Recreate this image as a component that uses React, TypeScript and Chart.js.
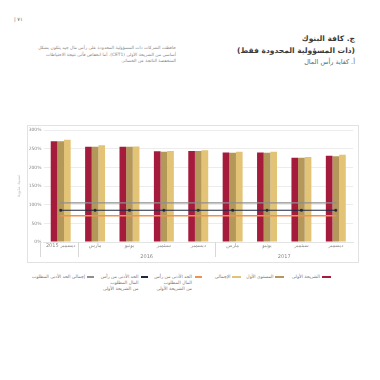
import React, { useEffect, useRef } from "react";
import { Chart, registerables } from "chart.js";

Chart.register(...registerables);

const categories = ["2015 ديسمبر", "مارس", "يونيو", "سبتمبر", "ديسمبر", "مارس", "يونيو", "سبتمبر", "ديسمبر"];
const yearLabels = ["2016", "2017"];
const cet1 = [270, 255, 255, 243, 244, 240, 240, 226, 231];
const tier1 = [270, 255, 255, 242, 244, 239, 239, 226, 230];
const total = [274, 259, 256, 244, 246, 242, 242, 228, 234];
const minTotal = [105, 105, 105, 105, 105, 105, 105, 105, 105];
const minTier1 = [85, 85, 85, 85, 85, 85, 85, 85, 85];
const minCet1 = [70, 70, 70, 70, 70, 70, 70, 70, 70];
const yTicks = ["0%", "50%", "100%", "150%", "200%", "250%", "300%"];

const RED = "#A51B3C";
const DGOLD = "#B4985A";
const LGOLD = "#E3C375";
const GRAY = "#8F8F8F";
const NAVY = "#1E2742";
const ORANGE = "#F09050";

const AR = "'DejaVu Sans', 'Noto Sans', sans-serif";

const yearPlugin = {
  id: "yearPlugin",
  afterDraw(chart: any) {
    const ctx = chart.ctx;
    const x = chart.scales.x;
    const area = chart.chartArea;
    const b1 = (x.getPixelForValue(0) + x.getPixelForValue(1)) / 2;
    const b2 = (x.getPixelForValue(4) + x.getPixelForValue(5)) / 2;
    ctx.save();
    ctx.strokeStyle = "#d8d8d8";
    ctx.lineWidth = 1;
    [area.left - 4, b1, b2].forEach((px) => {
      ctx.beginPath();
      ctx.moveTo(Math.round(px) + 0.5, area.bottom);
      ctx.lineTo(Math.round(px) + 0.5, area.bottom + 15);
      ctx.stroke();
    });
    ctx.fillStyle = "#888";
    ctx.font = "5px " + AR;
    ctx.textAlign = "center";
    ctx.textBaseline = "middle";
    ctx.fillText(yearLabels[0], (b1 + b2) / 2, area.bottom + 15);
    ctx.fillText(yearLabels[1], (b2 + area.right) / 2, area.bottom + 15);
    ctx.restore();
  },
};

function ChartBox() {
  const ref = useRef<HTMLCanvasElement>(null);
  useEffect(() => {
    if (!ref.current) return;
    const lineDs = (label: string, data: number[], color: string, w: number, ps: any) => ({
      type: "line" as const,
      label,
      data,
      borderColor: color,
      backgroundColor: color,
      borderWidth: w,
      pointRadius: 1.3,
      pointStyle: ps,
      pointBorderWidth: 0.8,
      order: 0,
    });
    const chart = new Chart(ref.current, {
      type: "bar",
      data: {
        labels: categories,
        datasets: [
          { type: "bar", label: "الشريحة الأولى", data: cet1, backgroundColor: RED, order: 1 },
          { type: "bar", label: "المستوى الأول", data: tier1, backgroundColor: DGOLD, order: 1 },
          { type: "bar", label: "الإجمالي", data: total, backgroundColor: LGOLD, order: 1 },
          lineDs("إجمالي الحد الأدنى المطلوب", minTotal, GRAY, 1.2, "crossRot"),
          lineDs("الحد الأدنى من رأس المال المطلوب من الشريحة الأولى", minTier1, NAVY, 1.2, "rect"),
          lineDs("الحد الأدنى من رأس المال المطلوب من الشريحة الأولى", minCet1, ORANGE, 1.5, "line"),
        ] as any,
      },
      options: {
        animation: false,
        responsive: false,
        maintainAspectRatio: false,
        layout: { padding: { top: 5, right: 5, left: 0, bottom: 0 } },
        datasets: { bar: { categoryPercentage: 0.58, barPercentage: 1 } } as any,
        plugins: { legend: { display: false }, tooltip: { enabled: false } },
        scales: {
          x: {
            grid: { display: false, drawTicks: false },
            border: { display: true, color: "#e3e3e3" },
            ticks: { color: "#8a8a8a", font: { size: 5, family: AR }, padding: 1, maxRotation: 0, autoSkip: false },
            afterFit: (s: any) => { s.height = 20; },
          },
          y: {
            min: 0,
            max: 300,
            grid: { color: "#ececec", drawTicks: false },
            border: { display: false },
            ticks: {
              stepSize: 50,
              color: "#8a8a8a",
              font: { size: 4.5, family: AR },
              padding: 2,
              callback: (v: any) => yTicks[Math.round(Number(v) / 50)],
            },
            title: { display: true, text: "نسبة مئوية", color: "#c4c4c4", font: { size: 5, family: AR }, padding: 1 },
            afterFit: (s: any) => { s.width = 28.5; },
          },
        },
      },
      plugins: [yearPlugin],
    });
    return () => chart.destroy();
  }, []);
  return <canvas ref={ref} width={343} height={137} style={{ position: "absolute", left: 15, top: 125, width: 343, height: 137 }} />;
}

const legendText: React.CSSProperties = {
  position: "absolute",
  fontSize: 4.5,
  lineHeight: "5.8px",
  color: "#777",
  fontFamily: AR,
  direction: "rtl",
  textAlign: "right",
  whiteSpace: "nowrap",
};

function Swatch({ left, color, kind }: { left: number; color: string; kind: "bar" | "line" }) {
  return (
    <div style={{ position: "absolute", left, top: kind === "bar" ? 275.8 : 276.3, width: kind === "bar" ? 9 : 7, height: kind === "bar" ? 2.4 : 1.3, background: color }} />
  );
}

export default function App() {
  return (
    <div style={{ position: "absolute", left: 0, top: 0, width: 380, height: 380, background: "#fff", overflow: "hidden", fontFamily: AR }}>
      <div style={{ position: "absolute", left: 14, top: 16, fontSize: 5, color: "#666" }}>| ٧١</div>
      <div style={{ position: "absolute", right: 25, top: 33, direction: "rtl", textAlign: "right", color: "#3a3a3a", whiteSpace: "nowrap" }}>
        <div style={{ fontSize: 7.5, fontWeight: "bold", lineHeight: "11.5px" }}>ج. كافة البنوك</div>
        <div style={{ fontSize: 7.5, fontWeight: "bold", lineHeight: "11.5px" }}>(ذات المسؤولية المحدودة فقط)</div>
        <div style={{ fontSize: 6.5, lineHeight: "12px", color: "#666" }}>أ. كفاية رأس المال</div>
      </div>
      <div style={{ position: "absolute", left: 44, width: 132, top: 45, direction: "rtl", textAlign: "right", color: "#888", fontSize: 4.4, lineHeight: "6.6px", whiteSpace: "nowrap" }}>
        <div>حافظت الشركات ذات المسؤولية المحدودة على رأس مال جيد يتكون بشكل</div>
        <div>أساسي من الشريحة الأولى (CET1). أما انخفاض فأتى نتيجة الاحتياطات</div>
        <div>المنخفضة الناتجة عن الخسائر.</div>
      </div>
      <div style={{ position: "absolute", left: 27, top: 125, width: 330, height: 136, border: "1px solid #e2e2e2" }} />
      <ChartBox />
      <Swatch left={322} color={RED} kind="bar" />
      <div style={{ ...legendText, right: 380 - 320, top: 274 }}>الشريحة الأولى</div>
      <Swatch left={275} color={DGOLD} kind="bar" />
      <div style={{ ...legendText, right: 380 - 273.5, top: 274 }}>المستوى الأول</div>
      <Swatch left={232} color={LGOLD} kind="bar" />
      <div style={{ ...legendText, right: 380 - 230.5, top: 274 }}>الإجمالي</div>
      <Swatch left={195} color={ORANGE} kind="line" />
      <div style={{ ...legendText, right: 380 - 192, top: 274 }}>
        <div>الحد الأدنى من رأس</div>
        <div>المال المطلوب</div>
        <div>من الشريحة الأولى</div>
      </div>
      <Swatch left={140.5} color={NAVY} kind="line" />
      <div style={{ ...legendText, right: 380 - 138.5, top: 274 }}>
        <div>الحد الأدنى من رأس</div>
        <div>المال المطلوب</div>
        <div>من الشريحة الأولى</div>
      </div>
      <Swatch left={87} color={GRAY} kind="line" />
      <div style={{ ...legendText, right: 380 - 85, top: 274 }}>إجمالي الحد الأدنى المطلوب</div>
    </div>
  );
}
